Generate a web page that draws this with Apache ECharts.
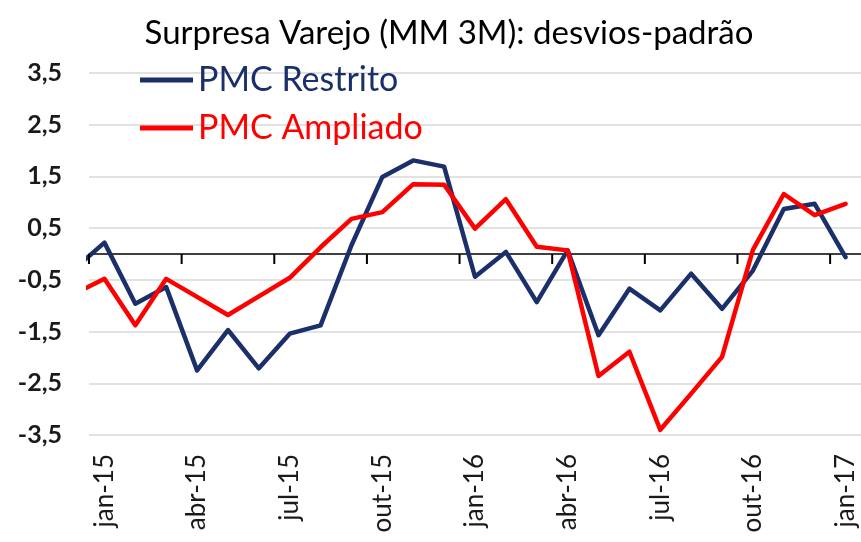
<!DOCTYPE html>
<html>
<head>
<meta charset="utf-8">
<script src="https://cdn.jsdelivr.net/npm/echarts@6/dist/echarts.min.js"></script>
<style>
  html, body { margin: 0; padding: 0; background: #ffffff; }
  #chart { width: 861px; height: 542px; }
</style>
</head>
<body>
<div id="chart"></div>
<script>
// Month before the visible window (line enters from the left edge)
const priorMonth = 'dez-14';
// Visible categories
const months = ['jan-15','fev-15','mar-15','abr-15','mai-15','jun-15','jul-15','ago-15','set-15','out-15','nov-15','dez-15',
                'jan-16','fev-16','mar-16','abr-16','mai-16','jun-16','jul-16','ago-16','set-16','out-16','nov-16','dez-16','jan-17'];
// Values: first entry is dez-14, then jan-15 ... jan-17
const pmcRestrito = [-0.30, 0.22, -0.96, -0.64, -2.25, -1.47, -2.21, -1.54, -1.38, 0.17, 1.49, 1.81, 1.69,
                     -0.44, 0.04, -0.93, 0.07, -1.57, -0.67, -1.09, -0.38, -1.06, -0.32, 0.87, 0.97, -0.06];
const pmcAmpliado = [-0.78, -0.48, -1.38, -0.48, -0.83, -1.18, -0.82, -0.46, 0.13, 0.68, 0.81, 1.35, 1.34,
                     0.49, 1.06, 0.14, 0.07, -2.36, -1.89, -3.40, -2.70, -1.99, 0.08, 1.16, 0.75, 0.97];
const seriesNames = ['PMC Restrito', 'PMC Ampliado'];
const titleText = 'Surpresa Varejo (MM 3M): desvios-padrão';

const allMonths = [priorMonth].concat(months);
function toPairs(vals) {
  return vals.map((v, i) => [i - 1, v]);
}
// quarterly tick marks on the zero line sit on the band boundaries before jan, abr, jul, out
const TICK_EVERY = 3;
const tickMarks = months.map((m, i) => i).filter(i => i % TICK_EVERY === 0).map(i => [i - 0.5, 0]);

const BLUE = '#1b2f6b';
const RED = '#ff0000';
const FONT = 'Lato';

const GRID_TOP = 73, GRID_BOTTOM = 107, H = 542;
const gridHeight = H - GRID_TOP - GRID_BOTTOM;
const Y_MIN = -3.5, Y_MAX = 3.5;
const zeroOffset = gridHeight * (Y_MAX / (Y_MAX - Y_MIN));
const TICK_LEN = 10;
const X_MIN = -0.5, X_MAX = months.length - 0.5;

const chart = echarts.init(document.getElementById('chart'), null, { renderer: 'canvas' });
chart.setOption({
  animation: false,
  backgroundColor: '#ffffff',
  title: {
    text: titleText,
    left: 444,
    textAlign: 'center',
    top: 12,
    textStyle: { fontFamily: FONT, fontSize: 33, fontWeight: 'normal', color: '#000000' }
  },
  legend: {
    orient: 'vertical',
    left: 140,
    top: 62,
    padding: 0,
    itemGap: 12,
    itemWidth: 53,
    itemHeight: 5,
    icon: 'rect',
    textStyle: { fontFamily: FONT, fontSize: 34, lineHeight: 36 },
    data: [
      { name: seriesNames[0], textStyle: { color: BLUE } },
      { name: seriesNames[1], textStyle: { color: RED } }
    ]
  },
  grid: [
    { left: 89, right: 0, top: GRID_TOP, bottom: GRID_BOTTOM, containLabel: false },
    // thin helper band whose top edge is the value-0 line
    { left: 89, right: 0, top: GRID_TOP + zeroOffset, height: TICK_LEN, containLabel: false }
  ],
  xAxis: [
    { type: 'value', gridIndex: 0, min: X_MIN, max: X_MAX, show: false, axisLine: { onZero: false } },
    {
      type: 'category', gridIndex: 0, data: months, boundaryGap: true, position: 'bottom',
      axisLine: { show: false, onZero: false },
      axisTick: { show: false },
      splitLine: { show: false },
      axisLabel: {
        interval: 2, rotate: 90, margin: 19,
        fontFamily: FONT, fontSize: 26, color: '#1a1a1a'
      }
    },
    {
      type: 'value', gridIndex: 1, min: X_MIN, max: X_MAX, position: 'top',
      axisLine: { show: true, onZero: false, lineStyle: { color: '#000000', width: 1.5 } },
      axisTick: { show: false },
      axisLabel: { show: false },
      splitLine: { show: false }
    }
  ],
  yAxis: [
    {
      type: 'value', gridIndex: 0, min: Y_MIN, max: Y_MAX, interval: 1,
      axisLine: { show: false, onZero: false },
      axisTick: { show: false },
      splitLine: { show: true, lineStyle: { color: '#d9d9d9', width: 1.5 } },
      axisLabel: {
        margin: 27, fontFamily: FONT, fontSize: 25, fontWeight: 'bold', color: '#1a1a1a',
        formatter: v => v.toFixed(1).replace('.', ',')
      }
    },
    { type: 'value', gridIndex: 1, show: false, min: 0, max: 1,
      axisLine: { show: false, onZero: false }, splitLine: { show: false } }
  ],
  series: [
    {
      name: 'ticks', type: 'scatter', xAxisIndex: 0, yAxisIndex: 0, data: tickMarks,
      symbol: 'rect', symbolSize: [2, TICK_LEN], symbolOffset: [0, TICK_LEN / 2],
      itemStyle: { color: '#000000', opacity: 1 }, silent: true, clip: false, z: 5
    },
    {
      name: seriesNames[0], type: 'line', xAxisIndex: 0, yAxisIndex: 0, data: toPairs(pmcRestrito),
      showSymbol: false, symbol: 'none', clip: true, z: 3,
      lineStyle: { color: BLUE, width: 4.5, join: 'round', cap: 'round' },
      itemStyle: { color: BLUE }
    },
    {
      name: seriesNames[1], type: 'line', xAxisIndex: 0, yAxisIndex: 0, data: toPairs(pmcAmpliado),
      showSymbol: false, symbol: 'none', clip: true, z: 3,
      lineStyle: { color: RED, width: 4.5, join: 'round', cap: 'round' },
      itemStyle: { color: RED }
    }
  ]
});
</script>
</body>
</html>
